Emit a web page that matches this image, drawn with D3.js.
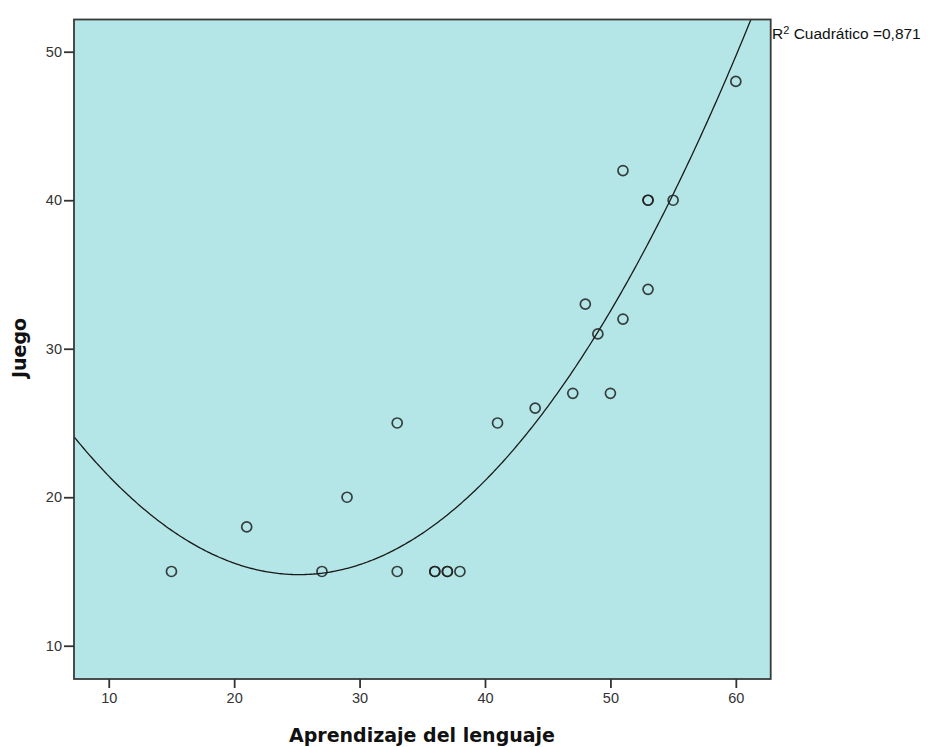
<!DOCTYPE html>
<html>
<head>
<meta charset="utf-8">
<script src="https://cdn.jsdelivr.net/npm/d3@7"></script>
<style>
  html, body { margin: 0; padding: 0; background: #fff; }
  svg { display: block; }
</style>
</head>
<body>
<svg id="chart" width="930" height="747"></svg>
<script>
// Data (Aprendizaje del lenguaje, Juego)
const aprendizaje = [15, 21, 27, 29, 33, 33, 36, 36, 37, 37, 38, 41, 44, 47, 48, 49, 50, 51, 51, 53, 53, 53, 55, 60];
const juego       = [15, 18, 15, 20, 25, 15, 15, 15, 15, 15, 15, 25, 26, 27, 33, 31, 27, 42, 32, 40, 40, 34, 40, 48];
const xTicks = [10, 20, 30, 40, 50, 60];
const yTicks = [10, 20, 30, 40, 50];
const xTitle = "Aprendizaje del lenguaje";
const yTitle = "Juego";
const r2Label = "0,871";

const svg = d3.select("#chart");
const L = 74, R = 770.7, T = 19.5, B = 679;

const x = d3.scaleLinear().domain([7.23, 62.78]).range([L, R]);
const y = d3.scaleLinear().domain([7.76, 52.17]).range([B, T]);

// plot background
svg.append("rect")
  .attr("x", L).attr("y", T).attr("width", R - L).attr("height", B - T)
  .attr("fill", "#b4e6e7");

// quadratic least-squares fit
function quadFit(xs, ys) {
  let n = xs.length, s = [0,0,0,0,0], t = [0,0,0];
  for (let i = 0; i < n; i++) {
    const xi = xs[i], yi = ys[i];
    for (let k = 0; k < 5; k++) s[k] += Math.pow(xi, k);
    for (let k = 0; k < 3; k++) t[k] += yi * Math.pow(xi, k);
  }
  const A = [[s[0], s[1], s[2], t[0]], [s[1], s[2], s[3], t[1]], [s[2], s[3], s[4], t[2]]];
  for (let i = 0; i < 3; i++) {
    let p = i;
    for (let r = i + 1; r < 3; r++) if (Math.abs(A[r][i]) > Math.abs(A[p][i])) p = r;
    [A[i], A[p]] = [A[p], A[i]];
    for (let r = 0; r < 3; r++) {
      if (r === i) continue;
      const f = A[r][i] / A[i][i];
      for (let c = i; c < 4; c++) A[r][c] -= f * A[i][c];
    }
  }
  return [A[0][3] / A[0][0], A[1][3] / A[1][1], A[2][3] / A[2][2]];
}
const [c0, c1, c2] = quadFit(aprendizaje, juego);
const fx = v => c0 + c1 * v + c2 * v * v;

svg.append("clipPath").attr("id", "clip")
  .append("rect").attr("x", L).attr("y", T).attr("width", R - L).attr("height", B - T);

const xs = d3.range(0, 401).map(i => 7.23 + (62.78 - 7.23) * i / 400);
svg.append("path")
  .datum(xs)
  .attr("clip-path", "url(#clip)")
  .attr("fill", "none")
  .attr("stroke", "#1a1a1a")
  .attr("stroke-width", 1.3)
  .attr("d", d3.line().x(d => x(d)).y(d => y(fx(d))));

// points
svg.append("g").selectAll("circle")
  .data(aprendizaje.map((v, i) => [v, juego[i]]))
  .join("circle")
  .attr("cx", d => x(d[0]))
  .attr("cy", d => y(d[1]))
  .attr("r", 5)
  .attr("fill", "none")
  .attr("stroke", "#1e1e1e")
  .attr("stroke-opacity", 0.85)
  .attr("stroke-width", 1.7);

// frame
svg.append("rect")
  .attr("x", L).attr("y", T).attr("width", R - L).attr("height", B - T)
  .attr("fill", "none").attr("stroke", "#3a3a3a").attr("stroke-width", 1.8);

// axes
const xAxis = d3.axisBottom(x).tickValues(xTicks).tickSize(9).tickPadding(5).tickSizeOuter(0);
const yAxis = d3.axisLeft(y).tickValues(yTicks).tickSize(10).tickPadding(2).tickSizeOuter(0);

const gx = svg.append("g").attr("transform", `translate(0,${B})`).call(xAxis);
const gy = svg.append("g").attr("transform", `translate(${L},0)`).call(yAxis);
[gx, gy].forEach(g => {
  g.select(".domain").remove();
  g.selectAll(".tick line").attr("stroke", "#333").attr("stroke-width", 1.8);
  g.selectAll(".tick text")
    .attr("fill", "#333")
    .style("font-family", "'Liberation Sans', Arial, sans-serif")
    .style("font-size", "14.5px");
});

// axis titles
svg.append("text")
  .attr("x", 422).attr("y", 742)
  .attr("text-anchor", "middle")
  .style("font-family", "'DejaVu Sans', Verdana, sans-serif")
  .style("font-weight", "bold")
  .style("font-size", "19px")
  .attr("fill", "#111")
  .text(xTitle);

svg.append("text")
  .attr("transform", "translate(26,348) rotate(-90)")
  .attr("text-anchor", "middle")
  .style("font-family", "'DejaVu Sans', Verdana, sans-serif")
  .style("font-weight", "bold")
  .style("font-size", "19px")
  .attr("fill", "#111")
  .text(yTitle);

// R² label
const rt = svg.append("text")
  .attr("x", 772).attr("y", 39)
  .style("font-family", "'Liberation Sans', Arial, sans-serif")
  .style("font-size", "15.5px")
  .attr("fill", "#111");
rt.append("tspan").text("R");
rt.append("tspan").attr("dy", -5).style("font-size", "11px").text("2");
rt.append("tspan").attr("dy", 5).text(" Cuadrático =" + r2Label);
</script>
</body>
</html>
